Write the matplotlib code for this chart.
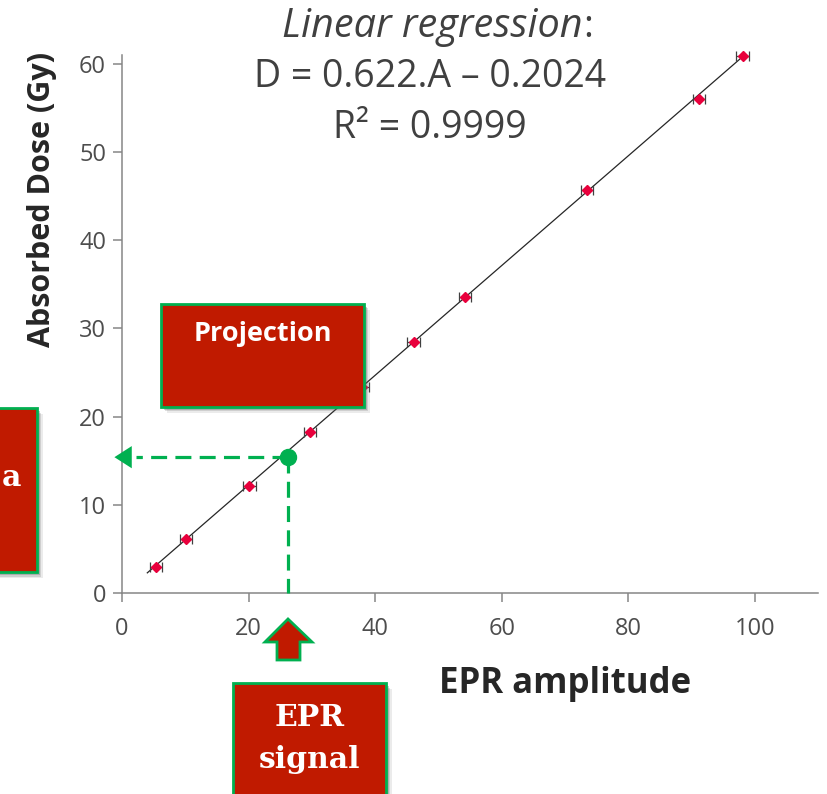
import matplotlib.pyplot as plt
from matplotlib.patches import Rectangle, Polygon
import numpy as np

# EPR amplitude vs absorbed dose (calibration points)
amplitude = [5.4, 10.1, 20.1, 29.7, 38.0, 46.1, 54.2, 73.5, 91.2, 98.1]
dose = [3.0, 6.1, 12.1, 18.3, 23.4, 28.5, 33.6, 45.7, 56.0, 60.9]
amp_err = [1.0, 1.0, 1.0, 1.0, 1.0, 1.0, 1.0, 1.0, 1.0, 1.0]

slope = 0.622
intercept = -0.2024
fit_range = [4.0, 98.8]

# measured sample projected on the calibration
sample_amp = 26.2
sample_dose = 15.4

x_ticks = [0, 20, 40, 60, 80, 100]
y_ticks = [0, 10, 20, 30, 40, 50, 60]

W, H = 828, 794
red = '#C01A00'
green = '#00B050'
grey = '#868686'

plt.rcParams['font.family'] = ['Open Sans', 'DejaVu Sans']

fig = plt.figure(figsize=(W / 100, H / 100), dpi=100)
ax = fig.add_axes([122 / W, 1 - 593 / H, 696 / W, 61.0 * 8.82 / H])

fx = np.array(fit_range)
ax.plot(fx, slope * fx + intercept, color='#262626', lw=0.9, zorder=2)
ax.errorbar(amplitude, dose, xerr=amp_err, fmt='D', color='#E8003C', ms=5.5,
            ecolor='#404040', elinewidth=0.9, capsize=3.6, capthick=0.9,
            zorder=3, clip_on=False)

# projection lines
ax.plot([sample_amp, sample_amp], [sample_dose, 0], color=green, lw=2.3,
        dashes=(5, 2.6), zorder=4, clip_on=False)
ax.plot([sample_amp, 2.2], [sample_dose, sample_dose], color=green, lw=2.3,
        dashes=(5, 2.6), zorder=4, clip_on=False)
ax.annotate('', xy=(-1.2, sample_dose), xytext=(2.6, sample_dose),
            arrowprops=dict(arrowstyle='-|>,head_length=1.25,head_width=0.8',
                            color=green, lw=0, shrinkA=0, shrinkB=0),
            annotation_clip=False, zorder=4)
ax.plot([sample_amp], [sample_dose], 'o', color=green, ms=11.5, zorder=5,
        clip_on=False)

ax.set_xlim(0, 110)
ax.set_ylim(0, 61.0)
ax.set_xticks(x_ticks)
ax.set_yticks(y_ticks)
for s in ['top', 'right']:
    ax.spines[s].set_visible(False)
for s in ['left', 'bottom']:
    ax.spines[s].set_color(grey)
    ax.spines[s].set_linewidth(1.1)
ax.tick_params(direction='out', length=6.5, width=1.1, color=grey,
               labelsize=17, labelcolor='#4D4D4D')
ax.tick_params(axis='x', pad=11)
ax.tick_params(axis='y', pad=5)

# titles / labels
fig.text(583 / W, 1 - 27 / H, 'Linear regression', style='italic',
         fontsize=28.5, color='#404040', ha='right', va='center')
fig.text(583 / W, 1 - 27 / H, ':', fontsize=27, color='#404040',
         ha='left', va='center')
fig.text(430 / W, 1 - 77 / H, 'D = 0.622.A \u2013 0.2024', fontsize=27,
         color='#404040', ha='center', va='center')
fig.text(430 / W, 1 - 128 / H, 'R\u00b2 = 0.9999', fontsize=27,
         color='#404040', ha='center', va='center')
fig.text(565 / W, 1 - 684 / H, 'EPR amplitude', fontsize=25,
         fontweight='bold', color='#262626', ha='center', va='center')
fig.text(42 / W, 1 - 199 / H, 'Absorbed Dose (Gy)', fontsize=22,
         fontweight='bold', color='#262626', ha='center', va='center',
         rotation=90)


def box(x0, y0, x1, y1):
    # shadow first, then the red box with green border (pixel coords)
    for k, a in [(6, 0.12), (4.5, 0.2), (3, 0.3)]:
        fig.patches.append(Rectangle((x0 / W + k / W, 1 - y1 / H - k / H),
                                     (x1 - x0) / W, (y1 - y0) / H,
                                     transform=fig.transFigure,
                                     facecolor='#606060', edgecolor='none',
                                     alpha=a, zorder=5))
    fig.patches.append(Rectangle((x0 / W, 1 - y1 / H), (x1 - x0) / W,
                                 (y1 - y0) / H, transform=fig.transFigure,
                                 facecolor=red, edgecolor=green, lw=2,
                                 zorder=6))


box(161, 304, 364, 407)
box(-10, 408, 37, 572)
box(233, 683, 386, 810)

fig.text(263 / W, 1 - 334 / H, 'Projection', fontsize=19.5, fontweight='bold',
         color='white', ha='center', va='center', zorder=7)
fig.text(11 / W, 1 - 477 / H, 'a', fontsize=21.5, fontweight='bold',
         family='DejaVu Serif', color='white', ha='center', va='center',
         zorder=7)
fig.text(310 / W, 1 - 718 / H, 'EPR', fontsize=21.5, fontweight='bold',
         family='DejaVu Serif', color='white', ha='center', va='center',
         zorder=7)
fig.text(310 / W, 1 - 760 / H, 'signal', fontsize=21.5, fontweight='bold',
         family='DejaVu Serif', color='white', ha='center', va='center',
         zorder=7)

# block arrow pointing up to the x axis
arrow_px = [(288, 619), (312, 642), (300, 642), (300, 660), (277, 660),
            (277, 642), (265, 642)]
fig.patches.append(Polygon([(x / W, 1 - y / H) for x, y in arrow_px],
                           closed=True, transform=fig.transFigure,
                           facecolor=red, edgecolor=green, lw=2, zorder=6))

fig.savefig('out.png', dpi=100)
